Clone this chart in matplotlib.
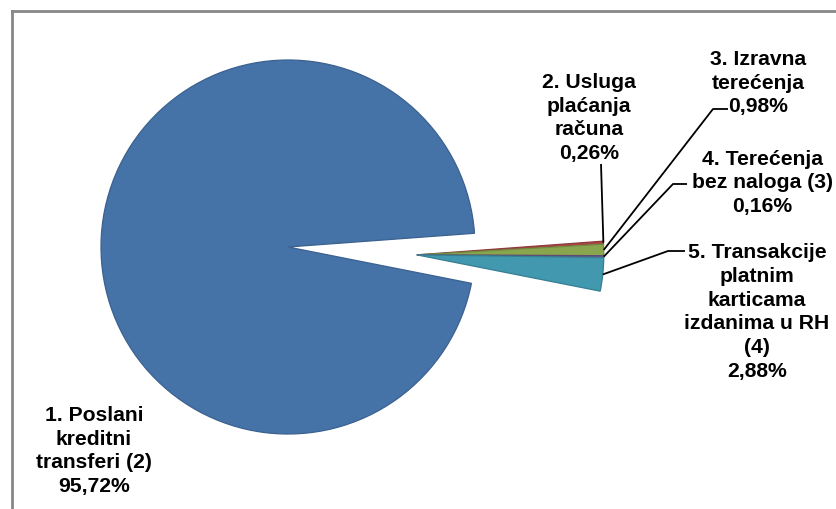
import numpy as np
import matplotlib.pyplot as plt
from matplotlib.lines import Line2D

# data
labels = ['1. Poslani\nkreditni\ntransferi (2)',
          '2. Usluga\nplaćanja\nračuna',
          '3. Izravna\nterećenja',
          '4. Terećenja\nbez naloga (3)',
          '5. Transakcije\nplatnim\nkarticama\nizdanima u RH\n(4)']
shares = [95.72, 0.26, 0.98, 0.16, 2.88]
pct_text = ['95,72%', '0,26%', '0,98%', '0,16%', '2,88%']
colors = ['#4572A7', '#AA4643', '#89A54E', '#71588F', '#4198AF']
edges = ['#3B6190', '#8E3A38', '#728A41', '#5E4977', '#367F92']

W, H = 836, 510
R = 187            # pie radius in pixels
CX, CY = 288, 248  # pie centre in pixels


def to_data(px, py):
    # pixel position -> data coords (pie radius = 1)
    return (px - CX) / R, (CY - py) / R


plt.rcParams['font.family'] = ['Liberation Sans', 'DejaVu Sans']

fig = plt.figure(figsize=(W / 100, H / 100), dpi=100)
ax = fig.add_axes([0, 0, 1, 1])

wedges, _ = ax.pie(shares, colors=colors, startangle=-11.2, counterclock=False,
                   radius=1, wedgeprops=dict(linewidth=0.9))
for w, ec in zip(wedges, edges):
    w.set_edgecolor(ec)

# pull the small slices out together along their common bisector
grp_mid = np.radians((wedges[4].theta1 + wedges[1].theta2) / 2)
shift = 0.69
dx, dy = shift * np.cos(grp_mid), shift * np.sin(grp_mid)
for w in wedges[1:]:
    w.set_center((dx, dy))

ax.set_xlim(-CX / R, (W - CX) / R)
ax.set_ylim(-(H - CY) / R, CY / R)
ax.set_aspect('auto')
ax.axis('off')

# label layout: text centre and leader elbow points (pixels)
text_pos = [(94, 451), (589, 118), (758, 83), (762, 183), (757, 312)]
elbows = [None,
          [(601, 165)],
          [(728, 110), (713, 110)],
          [(687, 185), (673, 185)],
          [(685, 252), (668, 252)]]

for i, w in enumerate(wedges):
    tx, ty = to_data(*text_pos[i])
    ax.text(tx, ty, labels[i] + '\n' + pct_text[i], ha='center', va='center',
            fontsize=15.2, fontweight='bold', linespacing=1.33, color='black')
    if elbows[i] is None:
        continue
    m = np.radians((w.theta1 + w.theta2) / 2)
    ax_, ay_ = w.center[0] + np.cos(m), w.center[1] + np.sin(m)
    pts = [to_data(*p) for p in elbows[i]] + [(ax_, ay_)]
    xs, ys = zip(*pts)
    ax.plot(xs, ys, color='black', lw=1.3, solid_capstyle='butt')

# chart frame (only top and left edges visible)
fx, fy = 12 / W, 1 - 12 / H
fig.add_artist(Line2D([fx, 1.0], [fy, fy], color='#878787', lw=2))
fig.add_artist(Line2D([fx, fx], [0, fy], color='#878787', lw=2))

fig.savefig('out.png', dpi=100)
